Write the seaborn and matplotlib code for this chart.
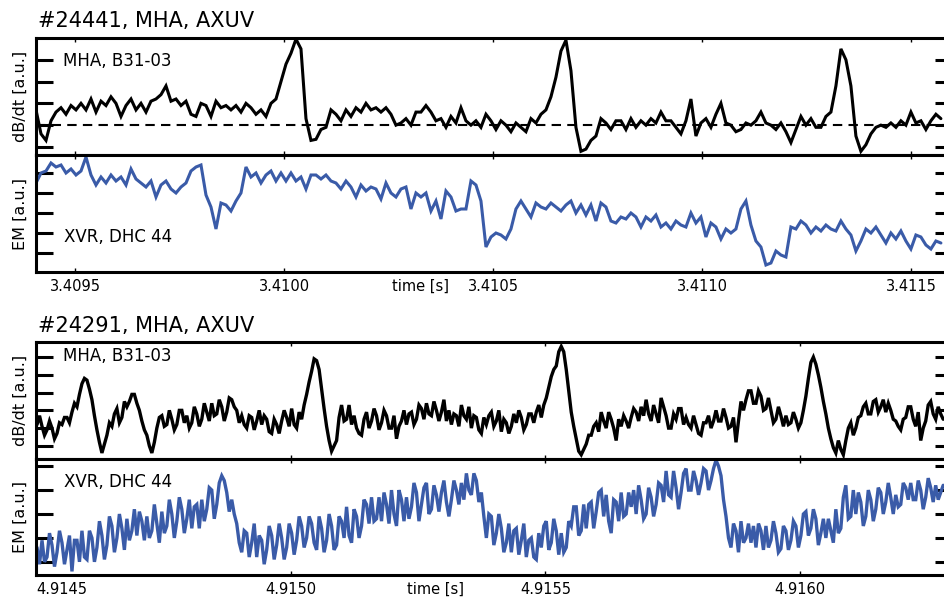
import numpy as np
import pandas as pd
import seaborn as sns
from matplotlib import pyplot as plt

# shot #24441: Mirnov coil dB/dt and soft X-ray emission, sampled every ~12 us
t0_24441 = 3.4094067
dt_24441 = 1.196e-5
dbdt_24441 = [
    1.7, 0.6, 0.3, 1.2, 1.6, 1.8, 1.5, 1.9, 1.7, 2.0,
    1.7, 2.2, 1.6, 2.1, 1.9, 2.3, 2.0, 1.4, 1.9, 2.2,
    1.7, 2.0, 1.6, 2.1, 2.2, 2.4, 2.8, 2.1, 2.2, 1.9,
    2.1, 1.5, 1.4, 2.0, 1.9, 1.4, 2.1, 1.8, 1.9, 1.7,
    1.9, 1.6, 2.0, 1.8, 1.5, 1.7, 1.4, 2.0, 2.2, 3.0,
    3.8, 4.3, 4.95, 4.5, 1.3, 0.3, 0.35, 0.8, 0.9, 1.7,
    1.5, 1.2, 1.7, 1.4, 1.8, 1.6, 2.0, 1.7, 1.8, 1.6,
    1.8, 1.5, 1.0, 1.1, 1.3, 1.0, 1.6, 1.6, 1.9, 1.6,
    1.2, 1.3, 0.9, 1.4, 1.1, 1.8, 1.2, 1.0, 1.2, 0.9,
    1.5, 1.2, 0.8, 1.2, 1.0, 0.7, 1.1, 0.9, 0.7, 1.3,
    1.1, 1.5, 1.7, 2.3, 3.2, 4.4, 4.9, 3.5, 0.9, -0.2,
    -0.1, 0.3, 0.5, 1.3, 1.1, 0.8, 1.2, 1.2, 0.8, 1.3,
    0.9, 1.2, 1.0, 1.3, 1.1, 1.6, 1.2, 1.2, 0.9, 0.6,
    1.2, 2.2, 0.5, 1.1, 1.3, 0.9, 1.5, 2.0, 1.1, 1.0,
    0.7, 0.8, 1.1, 1.0, 1.2, 1.6, 1.1, 1.0, 0.8, 1.1,
    0.7, 0.2, 0.8, 1.4, 1.0, 1.3, 0.9, 0.9, 1.4, 1.6,
    2.8, 4.5, 4.0, 2.8, 0.5, -0.2, 0.1, 0.6, 0.9, 1.0,
    0.9, 1.1, 0.9, 1.2, 1.0, 1.6, 1.1, 1.2, 0.8, 1.2, 1.5, 1.3,
]
em_24441 = [
    3.5, 4.0, 4.1, 4.5, 4.3, 4.4, 4.0, 4.2, 3.9, 4.1,
    4.8, 3.9, 3.4, 3.8, 3.5, 3.9, 3.6, 3.8, 3.4, 4.2,
    3.7, 3.5, 3.3, 3.6, 2.8, 3.4, 3.6, 3.2, 3.0, 3.3,
    3.5, 4.1, 4.3, 4.4, 2.9, 2.3, 1.2, 2.5, 2.4, 2.1,
    2.6, 3.0, 4.3, 3.8, 4.0, 3.5, 3.9, 4.1, 3.6, 4.0,
    3.6, 4.0, 3.6, 3.8, 3.2, 3.9, 3.9, 3.7, 3.9, 3.6,
    3.5, 3.2, 3.6, 3.3, 2.8, 3.4, 3.1, 3.3, 3.2, 2.7,
    3.5, 3.0, 2.8, 3.2, 3.3, 2.2, 3.0, 2.8, 3.0, 2.1,
    2.6, 1.7, 3.1, 2.8, 2.1, 2.2, 2.2, 3.6, 3.4, 2.6,
    0.3, 0.8, 1.0, 0.9, 0.7, 1.2, 2.2, 2.6, 2.2, 1.8,
    2.5, 2.3, 2.2, 2.5, 2.3, 2.1, 2.4, 2.6, 2.0, 2.4,
    1.9, 2.4, 1.6, 2.5, 2.3, 1.6, 1.5, 1.8, 1.7, 2.0,
    1.8, 1.3, 1.8, 1.6, 1.9, 1.3, 1.5, 1.2, 1.6, 1.4,
    1.3, 2.0, 1.5, 1.8, 0.8, 1.5, 1.3, 0.7, 1.2, 1.0,
    1.2, 2.2, 2.6, 1.4, 0.6, 0.3, -0.6, -0.5, 0.1, -0.1,
    -0.2, 1.3, 1.2, 1.6, 1.4, 1.0, 1.3, 1.1, 1.4, 1.2,
    1.1, 1.6, 1.2, 0.9, 0.1, 0.6, 1.2, 1.0, 1.3, 0.9,
    0.5, 1.0, 0.7, 1.1, 0.6, 0.2, 0.9, 0.8, 0.4, 0.2, 0.6, 0.5,
]

# shot #24291, sampled every ~4.9 us; the trace is read in two passes,
# on the 10 us grid and at the points half way between them
t0_24291 = 4.914502
dt_24291 = 9.80e-6
dbdt_24291 = [
    1.2, 1.1, 0.9, 1.0, 0.7, 1.2, 1.6, 1.9, 2.2, 3.5,
    3.7, 2.6, 0.9, -0.4, 0.6, 1.1, 2.1, 1.6, 2.2, 2.9,
    2.4, 1.4, 0.6, -0.4, 1.0, 1.7, 1.2, 1.5, 1.2, 2.0,
    1.7, 1.3, 1.8, 1.5, 1.9, 2.4, 1.8, 2.2, 1.9, 2.6,
    2.0, 1.7, 1.0, 1.6, 1.4, 1.2, 1.5, 0.7, 1.2, 1.4,
    1.6, 2.1, 1.0, 1.5, 2.9, 4.2, 4.8, 3.2, 1.1, -0.3,
    0.3, 2.3, 1.5, 1.2, 1.0, 0.6, 1.9, 1.4, 1.7, 1.3,
    1.7, 1.0, 0.4, 1.4, 1.2, 1.9, 1.5, 2.1, 2.4, 1.7,
    2.0, 1.9, 1.4, 1.2, 1.7, 2.3, 1.5, 1.0, 1.6, 0.7,
    1.2, 1.9, 1.4, 0.8, 1.3, 1.1, 1.3, 1.6, 1.2, 1.8,
    1.9, 1.6, 2.7, 3.9, 4.5, 5.6, 4.3, 1.9, 0.4, -0.5,
    0.1, 0.6, 1.3, 1.9, 1.0, 1.5, 0.3, 1.1, 1.4, 1.6,
    1.9, 2.2, 2.6, 1.4, 1.8, 2.7, 1.7, 1.0, 1.5, 2.1,
    1.6, 1.0, 1.2, 0.6, 1.3, 1.0, 2.0, 1.4, 1.6, 1.1,
    0.2, 2.5, 2.6, 3.1, 2.4, 2.8, 2.1, 2.0, 1.5, 1.7,
    1.7, 1.3, 1.5, 1.3, 2.8, 4.7, 4.6, 3.3, 1.8, 0.4,
    -0.4, -0.2, 0.3, 1.3, 1.0, 1.7, 2.4, 1.8, 2.6, 2.2,
    1.9, 2.0, 1.4, 0.9, 1.6, 2.2, 1.1, 0.3, 1.4, 2.5, 1.5, 1.8,
]
dbdt_24291_mid = [
    1.7, 0.6, 1.4, 0.4, 1.3, 1.6, 1.3, 2.4, 2.9, 3.8,
    3.2, 1.7, 0.2, 0.1, 1.3, 1.8, 1.3, 2.5, 2.5, 2.9,
    2.0, 0.9, 0.0, 0.2, 1.6, 1.1, 2.0, 0.9, 2.0, 1.3,
    1.0, 2.2, 1.1, 2.4, 1.4, 1.7, 2.6, 1.4, 2.7, 2.2,
    1.3, 1.2, 1.7, 0.9, 2.0, 1.7, 0.8, 1.5, 0.7, 2.0,
    1.1, 1.2, 1.9, 2.3, 3.6, 4.9, 4.3, 2.1, 0.3, 0.0,
    1.6, 1.4, 2.3, 1.7, 0.7, 1.5, 1.0, 2.1, 0.9, 2.0,
    1.0, 1.7, 1.1, 2.0, 1.8, 1.2, 2.3, 1.5, 1.8, 2.5,
    1.4, 2.6, 2.0, 1.8, 1.1, 1.7, 2.2, 1.7, 0.9, 1.6,
    1.7, 1.1, 2.0, 1.5, 0.7, 1.8, 2.0, 0.9, 1.8, 1.3,
    2.3, 2.3, 3.3, 4.3, 5.3, 5.3, 3.1, 1.1, -0.3, -0.2,
    0.6, 1.1, 0.8, 1.4, 1.9, 1.0, 1.5, 1.7, 1.0, 2.1,
    1.4, 1.7, 1.8, 2.3, 1.3, 2.2, 1.0, 1.8, 2.1, 1.2,
    1.2, 1.7, 0.7, 1.3, 1.7, 1.4, 1.4, 2.1, 1.0, 1.6,
    1.4, 2.0, 3.1, 2.4, 3.1, 2.0, 2.7, 1.3, 2.2, 1.1,
    1.2, 1.9, 1.0, 2.0, 3.8, 5.0, 4.0, 2.5, 1.0, -0.1,
    0.3, -0.5, 1.0, 0.6, 1.6, 2.2, 1.8, 2.5, 1.9, 2.6,
    2.4, 1.5, 1.1, 1.5, 2.2, 1.5, 1.9, 1.0, 2.3, 1.8, 2.2, 1.5,
]
em_24291 = [
    0.6, 0.9, 0.2, 0.7, 0.4, 0.8, 0.5, -0.4, 0.9, 1.3,
    0.1, 1.0, 0.6, 1.1, 0.7, 1.5, 1.0, 1.4, 1.8, 1.3,
    1.1, 1.7, 1.9, 1.3, 1.6, 2.1, 1.5, 2.0, 1.7, 2.2,
    1.8, 1.4, 2.4, 2.6, 2.2, 3.0, 2.4, 3.6, 2.9, 2.6,
    1.6, 0.4, 1.2, 0.8, 0.2, 0.9, 0.5, 1.1, 0.7, 1.0,
    0.6, 1.2, 0.9, 1.5, 1.0, 1.6, 0.5, 1.4, 0.9, 1.5,
    0.7, 1.7, 2.3, 0.8, 1.9, 1.5, 2.4, 2.7, 1.8, 1.7,
    2.4, 3.0, 1.5, 2.6, 2.7, 2.3, 2.9, 2.4, 3.3, 2.2,
    2.8, 2.9, 2.5, 2.6, 3.0, 3.3, 3.7, 2.8, 3.4, 2.9,
    1.0, 1.9, 1.2, 1.4, 0.8, 0.4, 1.4, 0.9, 0.2, 1.0,
    0.1, 0.6, 1.7, 0.8, 1.3, 1.2, 0.6, 1.5, 2.3, 1.3,
    1.4, 2.5, 2.1, 3.0, 2.8, 1.2, 2.5, 2.9, 2.0, 2.3,
    2.0, 2.6, 2.0, 2.7, 2.4, 3.2, 3.8, 2.7, 3.1, 2.9,
    3.9, 3.0, 3.4, 3.3, 3.8, 3.4, 4.25, 3.6, 1.9, 0.6,
    1.3, 1.7, 1.0, 0.8, 0.6, 1.3, 1.5, 0.9, 1.2, 0.55,
    1.3, 0.9, 1.5, 1.1, 2.1, 1.4, 1.8, 1.2, 1.0, 1.3,
    2.2, 1.4, 3.2, 1.9, 2.0, 2.5, 1.9, 2.6, 2.2, 2.9,
    2.5, 2.7, 2.8, 2.4, 3.1, 3.3, 2.6, 3.0, 2.7, 3.1, 3.2, 2.9,
]
em_24291_mid = [
    -0.1, 0.0, 1.2, -0.2, 1.3, -0.1, 1.1, 0.9, 0.0, 0.2,
    1.3, 0.0, 1.7, 0.1, 1.9, 0.4, 2.0, 0.5, 0.9, 2.2,
    2.1, 0.9, 1.0, 2.4, 0.8, 1.2, 2.6, 1.0, 2.7, 1.2,
    2.6, 2.3, 1.4, 1.7, 3.1, 1.8, 3.3, 3.4, 2.1, 2.0,
    0.8, 1.3, 0.2, 1.6, 1.1, -0.1, 1.5, 0.1, 1.6, 0.1,
    1.6, 0.3, 1.9, 0.6, 1.9, 0.8, 1.9, 0.4, 2.0, 0.5,
    1.9, 1.0, 1.1, 2.2, 1.0, 2.6, 1.6, 1.7, 2.7, 2.9,
    1.6, 2.0, 3.0, 1.7, 1.8, 3.3, 1.7, 3.1, 2.0, 3.2,
    2.1, 3.4, 1.9, 3.4, 2.4, 2.6, 3.0, 3.7, 2.5, 1.9,
    2.0, 0.7, 2.0, 0.4, 1.6, 1.3, 0.3, 1.6, 0.9, 0.2,
    1.2, 1.5, 0.5, 1.8, 0.3, 0.4, 1.7, 2.3, 1.1, 2.4,
    2.4, 1.4, 2.9, 1.9, 1.7, 2.6, 1.7, 1.9, 2.9, 3.0,
    3.2, 1.8, 3.1, 1.9, 3.3, 2.5, 2.8, 3.8, 2.2, 3.7,
    3.0, 3.8, 2.8, 3.9, 3.0, 3.9, 4.0, 2.6, 1.0, 1.6,
    0.4, 0.8, 1.6, 1.5, 1.6, 0.5, 0.6, 1.7, 0.4, 1.5,
    0.5, 1.7, 0.6, 2.0, 1.1, 2.2, 0.7, 1.8, 1.8, 0.8,
    1.2, 2.7, 1.8, 3.0, 2.9, 1.5, 3.0, 1.7, 3.1, 2.0,
    3.3, 2.0, 2.3, 3.3, 2.6, 2.6, 3.4, 2.2, 3.5, 2.5, 2.6, 3.2,
]

xticks_24441 = [3.4095, 3.4100, 3.4105, 3.4110, 3.4115]
xticks_24291 = [4.9145, 4.9150, 4.9155, 4.9160]
xlim_24441 = (3.4094067, 3.411598)
xlim_24291 = (4.914502, 4.916298)

BLUE = "#3a5ba8"


def make_frame(t0, dt, dbdt, em):
    t = t0 + dt * np.arange(len(dbdt))
    return pd.DataFrame({"time": t, "dbdt": dbdt, "em": em})


def merge_passes(df, dt, dbdt_mid, em_mid):
    # add the half-step readings to the regular grid
    mid = pd.DataFrame({"time": df.time + dt / 2, "dbdt": dbdt_mid, "em": em_mid})
    return pd.concat([df, mid]).sort_values("time").reset_index(drop=True)


def style_panel(ax, ylim, nticks, xlim, xticks, show_labels):
    ax.set_xlim(*xlim)
    ax.set_ylim(*ylim)
    ax.set_yticks(range(nticks))
    ax.set_xticks(xticks)
    for s in ax.spines.values():
        s.set_visible(True)
        s.set_linewidth(2.2)
        s.set_color("black")
    ax.tick_params(axis="y", direction="in", left=True, right=True,
                   labelleft=False, length=12, width=2.2, color="black")
    ax.tick_params(axis="x", direction="in", top=True, bottom=True,
                   length=3, width=1, color="black", pad=5,
                   labelbottom=show_labels, labelsize=10.5, labelcolor="black")
    ax.set_ylabel("")
    ax.set_xlabel("")


def draw_shot(fig, df, top, title, title_y, xlim, xticks, tlabel_x, ymeta, dashed, lw):
    left, width = 36 / 944, 916 / 944
    (h1, lim1, n1, ty1, lab1), (h2, lim2, n2, ty2, lab2) = ymeta
    ax1 = fig.add_axes([left, 1 - (top + h1) / 602, width, h1 / 602])
    ax2 = fig.add_axes([left, 1 - (top + h1 + h2) / 602, width, h2 / 602])

    sns.lineplot(data=df, x="time", y="dbdt", color="black", lw=lw, ax=ax1)
    if dashed:
        ax1.axhline(1.0, color="black", lw=1.5, ls=(0, (4.5, 3)), zorder=1)
    sns.lineplot(data=df, x="time", y="em", color=BLUE, lw=lw, ax=ax2)

    style_panel(ax1, lim1, n1, xlim, xticks, False)
    style_panel(ax2, lim2, n2, xlim, xticks, True)

    ax1.text(0.03, ty1, "MHA, B31-03", transform=ax1.transAxes,
             fontsize=12, va="center", ha="left", color="black")
    ax2.text(0.031, ty2, "XVR, DHC 44", transform=ax2.transAxes,
             fontsize=12, va="center", ha="left", color="black")

    ax1.set_ylabel(lab1, fontsize=11.5, color="black")
    ax2.set_ylabel(lab2, fontsize=11.5, color="black")
    ax1.yaxis.set_label_coords(-8 / 916, 0.5)
    ax2.yaxis.set_label_coords(-8 / 916, 0.5)

    ax2.set_xlabel("time [s]", fontsize=10.5, color="black")
    ax2.xaxis.set_label_coords(tlabel_x, -0.055)

    fig.text(38 / 944, 1 - title_y / 602, title, fontsize=15,
             va="baseline", ha="left", color="black")
    return ax1, ax2


sns.set_theme(style="ticks")
plt.rcParams["font.family"] = ["DejaVu Sans"]
plt.rcParams["text.color"] = "black"
plt.rcParams["lines.solid_joinstyle"] = "miter"

fig = plt.figure(figsize=(9.44, 6.02), dpi=100)

df_a = make_frame(t0_24441, dt_24441, dbdt_24441, em_24441)
df_b = make_frame(t0_24291, dt_24291, dbdt_24291, em_24291)
df_b = merge_passes(df_b, dt_24291, dbdt_24291_mid, em_24291_mid)

a1, a2 = draw_shot(
    fig, df_a, 38, "#24441, MHA, AXUV", 27, xlim_24441, xticks_24441, 0.42,
    [(117, (-0.37, 5.0), 5, 0.80, "dB/dt [a.u.]"),
     (117, (-0.95, 4.9), 5, 0.30, "EM [a.u.]")],
    dashed=True, lw=2.2,
)
b1, b2 = draw_shot(
    fig, df_b, 342, "#24291, MHA, AXUV", 332, xlim_24291, xticks_24291, 0.436,
    [(117, (-0.74, 5.85), 6, 0.88, "dB/dt [a.u.]"),
     (116, (-0.55, 4.3), 5, 0.80, "EM [a.u.]")],
    dashed=False, lw=2.4,
)
b2.set_xticklabels([f"{x:.4f}" for x in xticks_24291])
b2.get_xticklabels()[0].set_horizontalalignment("left")

fig.savefig("out.png", dpi=100)
